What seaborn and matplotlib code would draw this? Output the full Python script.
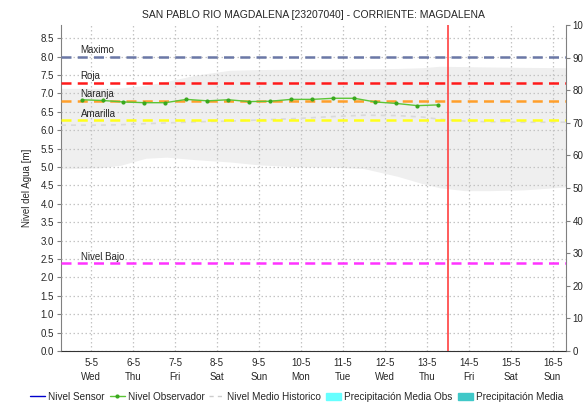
import numpy as np
import pandas as pd
import matplotlib
matplotlib.use("Agg")
import matplotlib.pyplot as plt
import seaborn as sns
from matplotlib.lines import Line2D
from matplotlib.patches import Patch

# day index: 0 = 5-5 (Wed)
day_labels = ["5-5\nWed", "6-5\nThu", "7-5\nFri", "8-5\nSat", "9-5\nSun", "10-5\nMon",
              "11-5\nTue", "12-5\nWed", "13-5\nThu", "14-5\nFri", "15-5\nSat", "16-5\nSun"]

# observer readings (two per day)
obs_day = [-0.23, 0.27, 0.77, 1.27, 1.77, 2.27, 2.77, 3.27, 3.77, 4.27, 4.77, 5.27,
           5.77, 6.27, 6.77, 7.27, 7.77, 8.27]
obs_level = [6.83, 6.81, 6.77, 6.75, 6.75, 6.84, 6.80, 6.83, 6.78, 6.79, 6.84, 6.84,
             6.87, 6.87, 6.77, 6.73, 6.67, 6.69]

# historic band (min / max) and mean
hist_day = [-0.72, 0.2, 0.7, 1.3, 1.8, 2.5, 3.3, 4.0, 4.9, 5.7, 6.5, 7.3, 7.9, 8.3, 8.9, 9.5, 10.3, 11.32]
hist_max = [7.14, 7.14, 7.15, 7.22, 7.33, 7.50, 7.63, 7.65, 7.66, 7.66, 7.67, 7.68, 7.70, 7.74, 7.73, 7.72, 7.71, 7.70]
hist_min = [4.95, 4.98, 5.05, 5.24, 5.27, 5.20, 5.14, 5.06, 5.01, 5.00, 4.96, 4.75, 4.55, 4.44, 4.36, 4.36, 4.38, 4.46]
hist_mean = [6.14, 6.14, 6.15, 6.18, 6.20, 6.23, 6.25, 6.28, 6.32, 6.37, 6.41, 6.40, 6.36, 6.30, 6.25, 6.23, 6.22, 6.22]

# alert thresholds
thr_names = ["Maximo", "Roja", "Naranja", "Amarilla", "Nivel Bajo"]
thr_values = [8.0, 7.29, 6.80, 6.28, 2.38]
thr_colors = ["#6b78a6", "#ff1a1a", "#ff9f2a", "#ffff1a", "#ff33ff"]

now_day = 8.5

sns.set_style("white")
plt.rcParams["font.family"] = ["Liberation Sans", "DejaVu Sans"]

fig = plt.figure(figsize=(5.83, 4.04), dpi=100)
ax = fig.add_axes([0.1046, 0.131, 0.8664, 0.807])

ax.fill_between(hist_day, hist_min, hist_max, color="#efefef", lw=0, zorder=1)

ax.set_xlim(-0.72, 11.32)
ax.set_ylim(0, 8.86)
ax.set_xticks(range(len(day_labels)))
ax.set_xticklabels(day_labels, fontsize=7, linespacing=1.5)
ax.set_yticks(np.arange(0, 8.51, 0.5))
ax.set_yticklabels([f"{v:.1f}" for v in np.arange(0, 8.51, 0.5)], fontsize=7)
ax.grid(True, color="#c4c4c4", linestyle=(0, (1.2, 2)), lw=0.9, zorder=2)
ax.set_axisbelow(False)

sns.lineplot(x=hist_day, y=hist_mean, ax=ax, color="#dadada", lw=1.2,
             linestyle=(0, (3, 3)), zorder=3)

for name, val, col in zip(thr_names, thr_values, thr_colors):
    ax.axhline(val, color=col, lw=1.8, linestyle=(0, (4, 2.5)), zorder=4)
    ax.text(-0.25, val + 0.04, name, fontsize=7, ha="left", va="bottom", zorder=6)

sns.lineplot(x=obs_day, y=obs_level, ax=ax, color="#5cc536", lw=1.0, marker="o",
             markersize=3, markeredgewidth=0, markerfacecolor="#39a81e", zorder=5)

ax.axvline(now_day, color="#ff4040", lw=1.2, zorder=6)

ax.set_title("SAN PABLO RIO MAGDALENA [23207040] - CORRIENTE: MAGDALENA", fontsize=7.5, pad=5)
ax.set_ylabel("Nivel del Agua [m]", fontsize=7, labelpad=6)

for s in ["left", "right"]:
    ax.spines[s].set_color("#808080")
ax.spines["top"].set_visible(False)
ax.spines["bottom"].set_color("#333333")
ax.spines["bottom"].set_linestyle((0, (1, 1)))
ax.tick_params(axis="both", length=3, color="#808080", pad=2)
ax.tick_params(axis="x", length=0, pad=5)

ax2 = ax.twinx()
ax2.set_ylim(0, 100)
ax2.set_yticks(range(0, 101, 10))
ax2.tick_params(axis="y", labelsize=7, length=3, color="#808080", pad=1.5)
for s in ["left", "right", "top", "bottom"]:
    ax2.spines[s].set_visible(False)

handles = [
    Line2D([], [], color="#0000cc", lw=1),
    Line2D([], [], color="#5cc536", lw=1, marker="o", markersize=3, markerfacecolor="#39a81e", markeredgewidth=0),
    Line2D([], [], color="#cccccc", lw=1, linestyle=(0, (3, 3))),
    Patch(color="#66ffff"),
    Patch(color="#40c8c8"),
]
labels = ["Nivel Sensor", "Nivel Observador", "Nivel Medio Historico",
          "Precipitación Media Obs", "Precipitación Media"]
fig.legend(handles, labels, loc="center left", bbox_to_anchor=(0.045, 0.018), ncol=5,
           frameon=False, fontsize=7.2, handlelength=1.5, handletextpad=0.3,
           columnspacing=0.5, borderaxespad=0)

fig.savefig("out.png", dpi=100)
